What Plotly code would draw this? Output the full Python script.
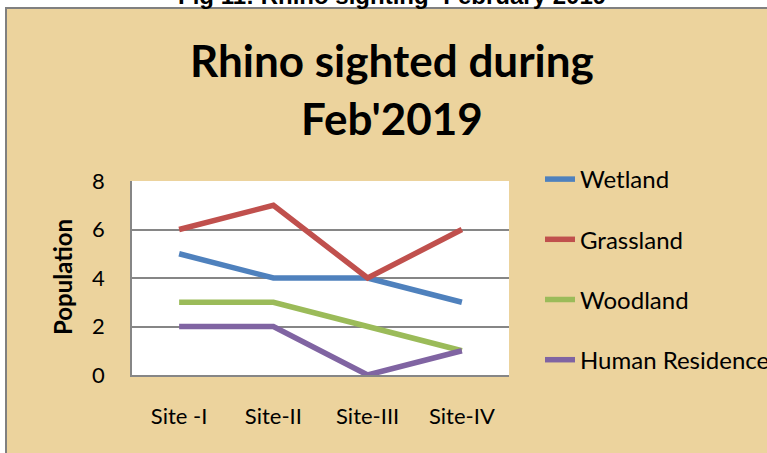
import plotly.graph_objects as go

categories = ["Site -I", "Site-II", "Site-III", "Site-IV"]
series_names = ["Wetland", "Grassland", "Woodland", "Human Residence"]
wetland = [5, 4, 4, 3]
grassland = [6, 7, 4, 6]
woodland = [3, 3, 2, 1]
human_residence = [2, 2, 0, 1]
series_values = [wetland, grassland, woodland, human_residence]
colors = ["#4F81BD", "#C0504D", "#9BBB59", "#8064A2"]
y_ticks = [0, 2, 4, 6, 8]

W, H = 767, 453
ML, MR, MT, MB = 132, 258, 181, 78
PW, PH = W - ML - MR, H - MT - MB

def px(x):
    return (x - ML) / PW

def py(y):
    return (H - MB - y) / PH

fig = go.Figure()
for i, (name, vals) in enumerate(zip(series_names, series_values)):
    fig.add_trace(go.Scatter(
        x=categories, y=vals, name=name, mode="lines",
        line=dict(color=colors[i], width=5.5),
        legendgroup=name,
    ))

fig.update_layout(
    width=W, height=H,
    margin=dict(l=ML, r=MR, t=MT, b=MB, pad=0, autoexpand=False),
    paper_bgcolor="white",
    plot_bgcolor="white",
    font=dict(family="Lato, Carlito, sans-serif", color="black"),
    showlegend=True,
    legend=dict(
        x=px(540), y=py(157), xanchor="left", yanchor="top",
        bgcolor="rgba(0,0,0,0)", font=dict(size=24, family="Lato"),
        tracegroupgap=26, itemwidth=30,
    ),
    shapes=[
        dict(type="rect", xref="paper", yref="paper", layer="below",
             x0=px(6), x1=px(800), y0=py(8), y1=py(500),
             fillcolor="#ECD39D", line=dict(color="#808080", width=2)),
        dict(type="rect", xref="paper", yref="paper", layer="below",
             x0=0, x1=1, y0=0, y1=1, fillcolor="white", line=dict(width=0)),
    ],
    annotations=[
        dict(text="<b>Fig 11: Rhino sighting- February 2019</b>", xref="paper", yref="paper",
             x=px(392), y=py(11), xanchor="center", yanchor="bottom", showarrow=False,
             font=dict(size=24, family="Liberation Sans, Arial")),
        dict(text="<b>Rhino sighted during</b>", xref="paper", yref="paper",
             x=px(392), y=py(60), xanchor="center", yanchor="middle", showarrow=False,
             font=dict(size=44, family="Lato")),
        dict(text="<b>Feb'2019</b>", xref="paper", yref="paper",
             x=px(392), y=py(118), xanchor="center", yanchor="middle", showarrow=False,
             font=dict(size=44, family="Lato")),
        dict(text="<b>Population</b>", xref="paper", yref="paper",
             x=px(62), y=py(277), xanchor="center", yanchor="middle", showarrow=False,
             textangle=-90, font=dict(size=24, family="Lato")),
    ],
)

fig.update_xaxes(
    type="category", range=[-0.5, 3.5],
    showgrid=False, showline=True, linecolor="#868686", linewidth=1.5,
    ticks="outside", ticklen=21, tickcolor="rgba(0,0,0,0)",
    tickfont=dict(size=22, family="Lato"), zeroline=False,
)
fig.update_yaxes(
    range=[0, 8], tickvals=y_ticks,
    showgrid=True, gridcolor="#868686", gridwidth=1.5,
    showline=True, linecolor="#868686", linewidth=1.5,
    ticks="outside", ticklen=21, tickcolor="rgba(0,0,0,0)",
    tickfont=dict(size=22, family="Lato"), zeroline=False,
)

fig.write_html("out.html", config={"displayModeBar": False},
               post_script="document.body.style.margin='0';")
